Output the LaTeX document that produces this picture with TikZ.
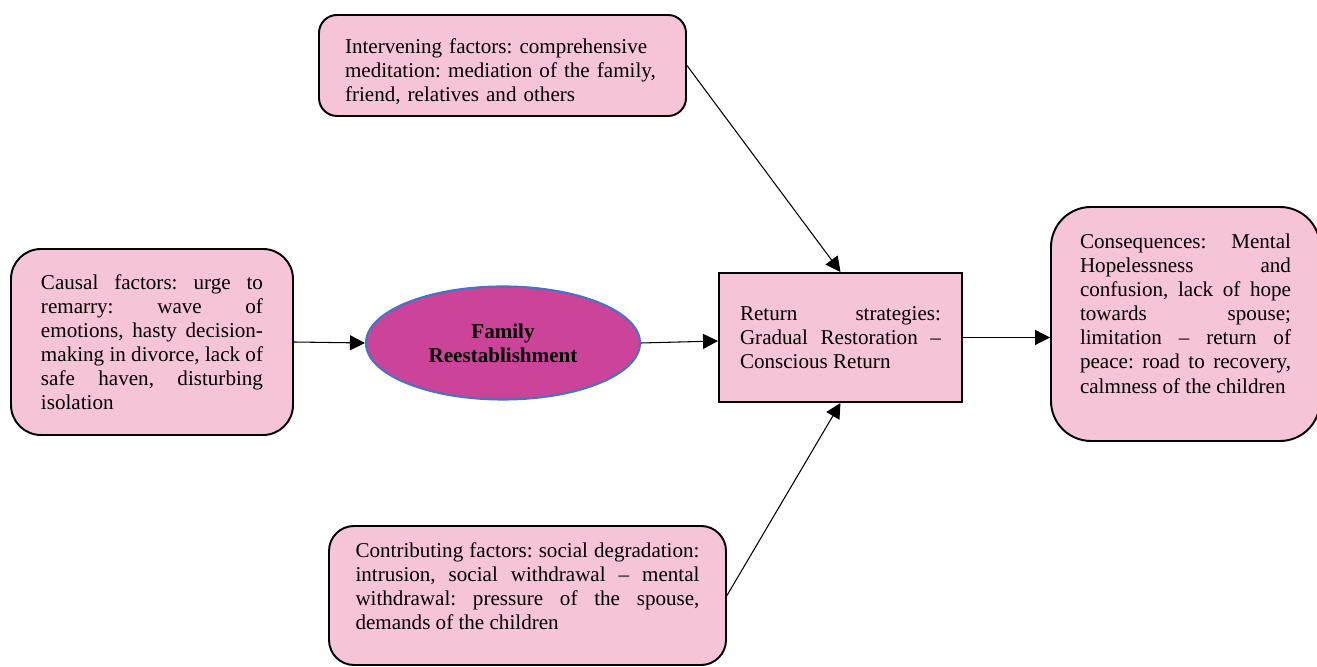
\documentclass[tikz,border=0pt]{standalone}
\usepackage{fontspec}
\setmainfont{Liberation Serif}
\usepackage{tikz}
\usetikzlibrary{arrows.meta}
\usetikzlibrary{shapes.geometric}
\usetikzlibrary{calc}

\definecolor{boxpink}{RGB}{246,196,216}
\definecolor{ellmag}{RGB}{204,68,153}
\definecolor{ellblue}{RGB}{70,115,196}
\newcommand{\boxfont}{\fontsize{12}{13.7}\selectfont\frenchspacing\tolerance=10000\hyphenpenalty=10000}
\newcommand{\padtop}[1]{\rule{0pt}{#1}}
\newcommand{\padbot}[1]{\rule[-#1]{0pt}{#1}}

\begin{document}
\begin{tikzpicture}[font=\boxfont,
	factorbox/.style={draw,line width=1.1pt,fill=boxpink,align=justify,inner xsep=0pt,inner ysep=0pt},
	arrowline/.style={-{Triangle[length=0.3cm,width=0.3cm]},line width=0.6pt}]
	\useasboundingbox (0,0) rectangle (26.34,13.34);
	% factor boxes
	\node[factorbox,rounded corners=0.36cm,minimum width=7.34cm,minimum height=2.02cm,text width=6.3cm,align=left] (interv) at (10.05,12.03)
		{\padtop{0.54cm}Intervening factors: comprehensive\\meditation: mediation of the family,\\friend, relatives and others};
	\node[factorbox,rounded corners=0.6cm,minimum width=5.64cm,minimum height=3.72cm,text width=4.44cm] (causal) at (3.04,6.5)
		{Causal factors: urge to\linebreak remarry: wave of\linebreak emotions, hasty decision-\linebreak making in divorce, lack of\linebreak safe haven, disturbing\linebreak isolation};
	\node[factorbox,rounded corners=0.5cm,minimum width=7.94cm,minimum height=2.78cm,text width=6.88cm] (contrib) at (10.55,1.43)
		{Contributing factors: social degradation:\linebreak intrusion, social withdrawal -- mental\linebreak withdrawal: pressure of the spouse,\linebreak demands of the children\padbot{0.38cm}};
	% centre
	\node[ellipse,draw=ellblue,line width=1.2pt,fill=ellmag,minimum width=5.48cm,minimum height=2.26cm,align=center,font=\boxfont\bfseries] (family) at (10.06,6.48)
		{Family\\Reestablishment};
	\node[factorbox,minimum width=4.86cm,minimum height=2.58cm,text width=4.02cm] (retstrat) at (16.81,6.59)
		{Return strategies:\linebreak Gradual Restoration --\linebreak Conscious Return};
	\node[factorbox,rounded corners=0.8cm,minimum width=5.38cm,minimum height=4.68cm,text width=4.22cm] (conseq) at (23.71,6.86)
		{Consequences: Mental\linebreak Hopelessness and\linebreak confusion, lack of hope\linebreak towards spouse;\linebreak limitation -- return of\linebreak peace: road to recovery,\linebreak calmness of the children\padbot{0.42cm}};
	% arrows
	\draw[arrowline] (causal.east) -- (family.west);
	\draw[arrowline] (family.east) -- ($(family.east -| retstrat.west)+(0,0.04)$);
	\draw[arrowline] (retstrat.east) -- (retstrat.east -| conseq.west);
	\draw[arrowline] (interv.east) -- (retstrat.north);
	\draw[arrowline] (contrib.east) -- (retstrat.south);
\end{tikzpicture}
\end{document}
